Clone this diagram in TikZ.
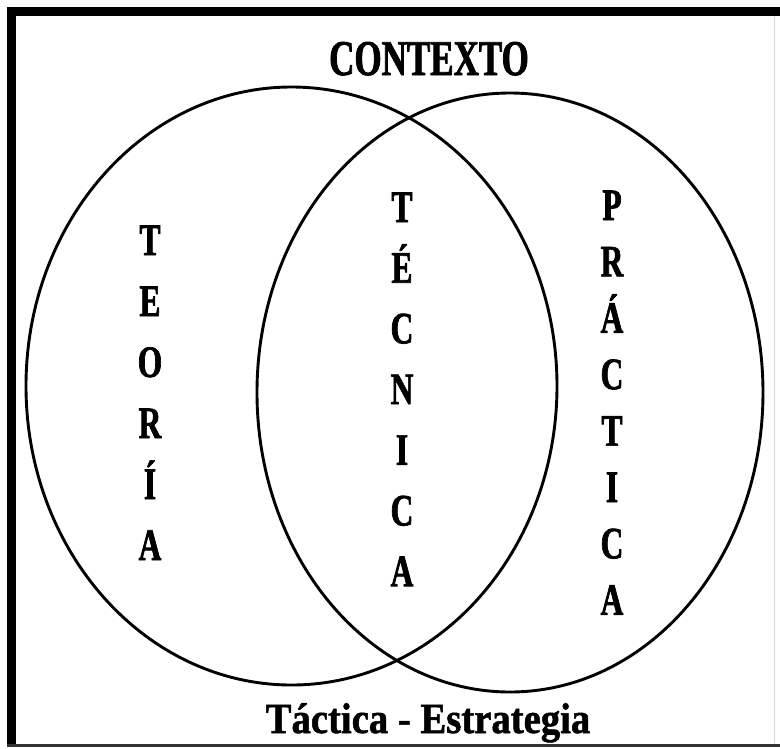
\documentclass[tikz,border=0pt]{standalone}
\usepackage{fontspec}
\newfontfamily\narrowfont[FakeStretch=0.70,BoldFeatures={FakeBold=1.5}]{Liberation Serif}
\newfontfamily\widefont[FakeStretch=0.9,BoldFeatures={FakeBold=1.2}]{Liberation Serif}
\begin{document}
\begin{tikzpicture}[x=1pt,y=-1pt,
  frame/.style={fill=black,draw=none},
  venn/.style={draw=black,line width=2.9pt},
  letter/.style={font=\narrowfont\bfseries\fontsize{45}{45}\selectfont,inner sep=0pt,anchor=base},
  heading/.style={font=\narrowfont\bfseries\fontsize{50}{50}\selectfont,inner sep=0pt,anchor=base},
  footer/.style={font=\widefont\bfseries\fontsize{43}{43}\selectfont,inner sep=0pt,anchor=base}]
\useasboundingbox (0,0) rectangle (780,748);
\fill[white] (0,0) rectangle (780,748);
% frame
\fill[frame] (7,7) rectangle (780,16);
\fill[frame] (7,7) rectangle (16,746);
\fill[black!80] (7,743.5) rectangle (780,746.5);
\fill[black!15] (773.5,16) rectangle (774.5,743.5);
% ellipses
\draw[venn] (291.5,386) ellipse [x radius=265.5,y radius=299];
\draw[venn] (510,392.5) ellipse [x radius=253,y radius=299.5];
% texts
\node[heading] (ctx) at (429,75) {CONTEXTO};
\node[footer] (foot) at (428,733) {Táctica - Estrategia};
\foreach \l [count=\i] in {T,E,O,R,Í,A}
  \node[letter] (teo\i) at (150,{255+61*(\i-1)}) {\l};
\foreach \l [count=\i] in {T,É,C,N,I,C,A}
  \node[letter] (tec\i) at (402,{222+60.7*(\i-1)}) {\l};
\foreach \l [count=\i] in {P,R,Á,C,T,I,C,A}
  \node[letter] (pra\i) at (612,{220+56.4*(\i-1)}) {\l};
\end{tikzpicture}
\end{document}
